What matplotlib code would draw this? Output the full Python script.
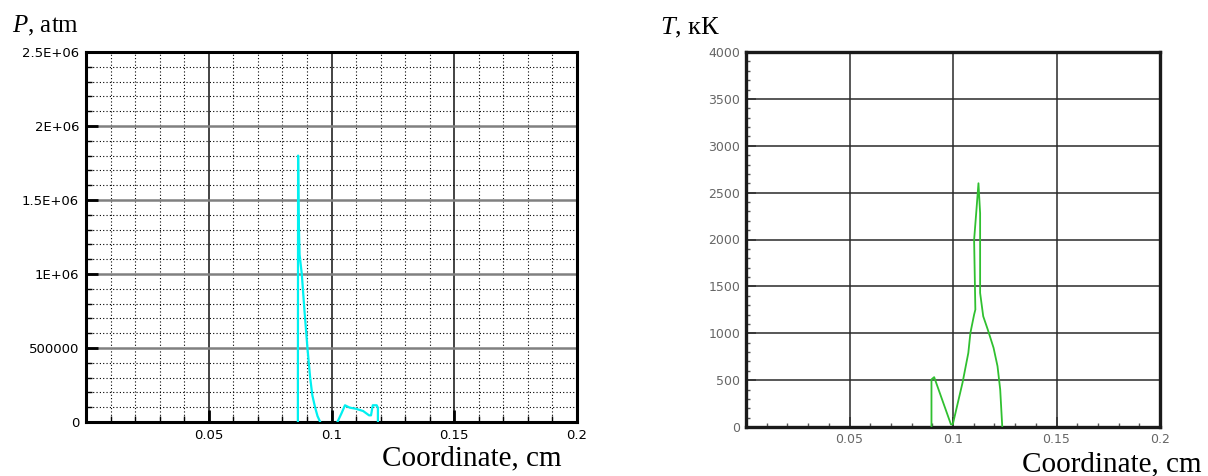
import matplotlib
matplotlib.use("Agg")
import matplotlib.pyplot as plt
import numpy as np
from matplotlib.ticker import MultipleLocator, FixedLocator

# ---- data ----
# Pressure (cyan), two separate pieces
p_x1 = [0.0863, 0.0864, 0.0866, 0.0870, 0.0879, 0.0890, 0.0902, 0.0913, 0.0922, 0.0933, 0.0943, 0.0954]
p_y1 = [0, 1.80e6, 1.40e6, 1.13e6, 1.0e6, 0.75e6, 0.5e6, 0.3e6, 0.18e6, 0.1e6, 0.04e6, 0]
p_x2 = [0.1024, 0.1040, 0.1055, 0.1074, 0.1098, 0.1129, 0.1153, 0.1161, 0.1168, 0.1184, 0.1189, 0.1189]
p_y2 = [0, 56000, 113000, 97000, 90000, 74000, 45000, 45000, 113000, 113000, 97000, 0]

# Temperature (green)
t_x = [0.0896, 0.0896, 0.0909, 0.0990, 0.0999, 0.1046, 0.1074, 0.1084, 0.1102, 0.1108,
       0.1102, 0.1112, 0.1123, 0.1131, 0.1131, 0.1146, 0.1168, 0.1196, 0.1215, 0.1228, 0.1238]
t_y = [0, 507, 532, 28, 28, 472, 790, 1003, 1199, 1252,
       1996, 2280, 2600, 2280, 1430, 1181, 1039, 844, 649, 400, 0]

p_yticks = [0, 500000, 1000000, 1500000, 2000000, 2500000]
p_ylabels = ["0", "500000", "1E+06", "1.5E+06", "2E+06", "2.5E+06"]
x_ticks = [0.05, 0.1, 0.15, 0.2]
x_labels = ["0.05", "0.1", "0.15", "0.2"]
t_yticks = [0, 500, 1000, 1500, 2000, 2500, 3000, 3500, 4000]
t_ylabels = ["0", "500", "1000", "1500", "2000", "2500", "3000", "3500", "4000"]

plt.rcParams['mathtext.fontset'] = 'custom'
plt.rcParams['mathtext.it'] = 'Liberation Serif:italic'
plt.rcParams['mathtext.rm'] = 'Liberation Serif'

W, H = 1208, 476
fig = plt.figure(figsize=(W / 100, H / 100), dpi=100)

def frac(x0, y0, x1, y1):
    return [x0 / W, 1 - y1 / H, (x1 - x0) / W, (y1 - y0) / H]

# ---------------- left panel ----------------
ax1 = fig.add_axes(frac(86, 52, 577, 422))
ax1.set_xlim(0, 0.2)
ax1.set_ylim(0, 2.5e6)
ax1.xaxis.set_major_locator(FixedLocator(x_ticks))
ax1.set_xticklabels(x_labels)
ax1.yaxis.set_major_locator(FixedLocator(p_yticks))
ax1.set_yticklabels(p_ylabels)
ax1.xaxis.set_minor_locator(MultipleLocator(0.01))
ax1.yaxis.set_minor_locator(MultipleLocator(100000))
ax1.grid(which='minor', color='black', linestyle=(0, (1, 2)), linewidth=0.8)
ax1.grid(which='major', axis='x', color='#111111', linestyle='-', linewidth=1.1)
ax1.grid(which='major', axis='y', color='#808080', linestyle='-', linewidth=1.8)
ax1.tick_params(which='major', direction='in', length=8.5, width=2.0, color='black',
                labelsize=9.5, pad=5)
ax1.tick_params(which='minor', direction='in', length=4.3, width=1.0, color='black')
ax1.tick_params(axis='y', which='both', right=False)
ax1.tick_params(axis='x', which='both', top=False)
for s in ax1.spines.values():
    s.set_linewidth(2.2)
    s.set_color('black')
for lab in ax1.get_xticklabels() + ax1.get_yticklabels():
    lab.set_family('DejaVu Sans')
ax1.plot(p_x1, p_y1, color='#00f0f0', linewidth=1.6, zorder=5)
ax1.plot(p_x2, p_y2, color='#00f0f0', linewidth=1.6, zorder=5)
ax1.set_axisbelow(True)

fig.text(12 / W, 1 - 32 / H, r"$P$, atm", family='Liberation Serif', fontsize=18, va='baseline')
fig.text(382 / W, 1 - 465 / H, "Coordinate, cm", family='Liberation Serif', fontsize=21, va='baseline')

# ---------------- right panel ----------------
ax2 = fig.add_axes(frac(746, 52, 1160, 427))
ax2.set_xlim(0, 0.2)
ax2.set_ylim(0, 4000)
ax2.xaxis.set_major_locator(FixedLocator(x_ticks))
ax2.set_xticklabels(x_labels)
ax2.yaxis.set_major_locator(FixedLocator(t_yticks))
ax2.set_yticklabels(t_ylabels)
ax2.xaxis.set_minor_locator(MultipleLocator(0.01))
ax2.yaxis.set_minor_locator(MultipleLocator(100))
ax2.grid(which='major', color='#2a2a2a', linestyle='-', linewidth=1.1)
ax2.tick_params(which='major', direction='in', length=7, width=1.2, color='#333333',
                labelsize=9, labelcolor='#666666', pad=4)
ax2.tick_params(which='minor', direction='in', length=3, width=1.0, color='#555555')
ax2.tick_params(axis='y', which='both', right=False)
ax2.tick_params(axis='x', which='both', top=False)
for s in ax2.spines.values():
    s.set_linewidth(2.4)
    s.set_color('#1a1a1a')
for lab in ax2.get_xticklabels() + ax2.get_yticklabels():
    lab.set_family('DejaVu Sans')
ax2.plot(t_x, t_y, color='#30c030', linewidth=1.3, zorder=5)
ax2.set_axisbelow(True)

fig.text(660 / W, 1 - 34 / H, r"$T$, кК", family='Liberation Serif', fontsize=19, va='baseline')
fig.text(1022 / W, 1 - 471 / H, "Coordinate, cm", family='Liberation Serif', fontsize=21, va='baseline')

fig.savefig("out.png", dpi=100)
